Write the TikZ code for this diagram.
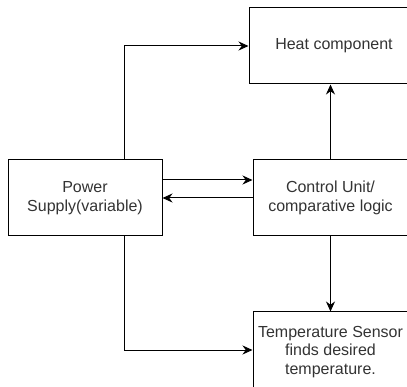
\documentclass[tikz,border=0pt]{standalone}
\usepackage{fontspec}
\setmainfont{Liberation Sans}
\usepackage{xcolor}
\usetikzlibrary{arrows.meta,positioning,calc}

\begin{document}
\begin{tikzpicture}[
  x=1pt, y=-1pt,
  box/.style={draw, line width=1pt, minimum height=76pt, minimum width=155pt, align=center, text=black!80, font=\fontsize{16}{18.5}\selectfont},
  arr/.style={-{Stealth[length=10pt, width=9pt]}, line width=1pt}
]
  \useasboundingbox (0,0) rectangle (407,387);
  \node[box, minimum width=170pt] (heat) at (334,46) {Heat component};
  \node[box, minimum width=154pt] (power) at (85,198) {Power\\Supply(variable)};
  \node[box] (control) at (330.5,198) {Control Unit/\\comparative logic};
  \node[box, text depth=-3pt] (sensor) at (330.5,350) {Temperature Sensor\\finds desired\\temperature.};

  \draw[arr] ([xshift=39pt]power.north) |- (heat.west);
  \draw[arr] ([yshift=18pt]power.east) -- ([yshift=18pt]control.west);
  \draw[arr] (control.west) -- (power.east);
  \draw[arr] (control.north) -- (control.north |- heat.south);
  \draw[arr] (control.south) -- (control.south |- sensor.north);
  \draw[arr] ([xshift=39pt]power.south) |- (sensor.west);
\end{tikzpicture}
\end{document}
